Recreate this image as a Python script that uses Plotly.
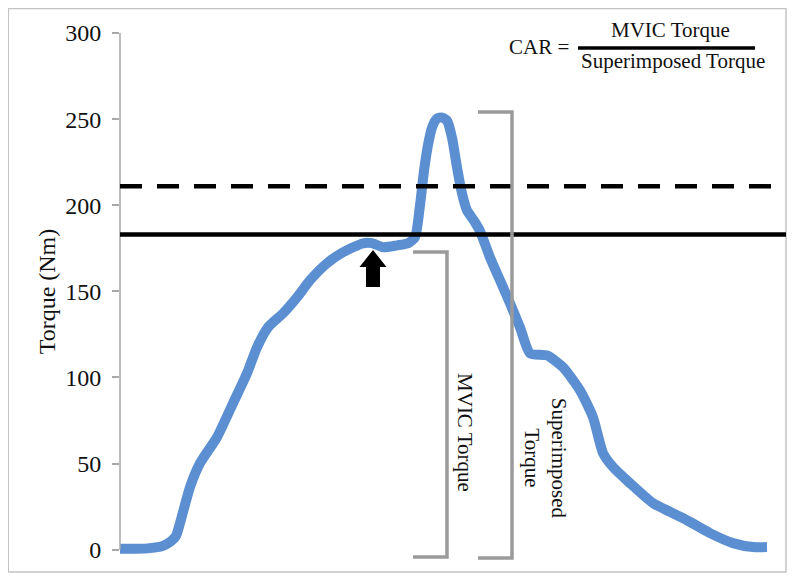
import plotly.graph_objects as go

# ---- data ----
time = [0, 15, 30, 42, 50, 56, 60, 70, 80, 97, 113, 127, 137, 148, 163, 177, 190, 207,
        223, 243, 252, 263, 277, 288, 295, 300, 304, 308, 312, 317, 322, 327, 332, 337,
        342, 347, 354, 360, 370, 380, 390, 400, 410, 427, 443, 460, 473, 483, 493, 510,
        533, 550, 567, 590, 613, 633, 647]
torque = [0.5, 0.5, 0.9, 2.0, 4.4, 8.0, 15.4, 36.3, 50.2, 65.3, 85.0, 102.4, 117.5, 129.1,
          137.2, 146.5, 156.4, 166.3, 172.7, 177.9, 178.0, 175.6, 176.7, 177.9, 181.4, 200.0,
          220.0, 235.0, 245.0, 250.3, 250.9, 249.1, 239.3, 222.0, 206.9, 197.0, 191.0, 185.0,
          169.7, 156.4, 143.1, 129.1, 114.0, 112.8, 105.9, 92.5, 76.9, 56.1, 48.0, 38.6,
          27.0, 22.0, 17.1, 9.6, 3.8, 1.5, 1.5]

y_ticks = [0, 50, 100, 150, 200, 250, 300]
superimposed_level = 211.0   # dashed line
mvic_level = 183.0           # solid line
mvic_point = (253, 174)      # arrow tip (time, torque)
mvic_bracket = dict(t0=293, t1=327, top=172.9, bottom=-4.2)
sup_bracket = dict(t0=358, t1=392, top=254.1, bottom=-4.8)

FONT = "Liberation Serif, Times New Roman, serif"
TXT = "#111"

fig = go.Figure()
fig.add_trace(go.Scatter(
    x=time, y=torque, mode="lines",
    line=dict(color="#5B8FD1", width=10, shape="spline", smoothing=0.6),
    showlegend=False, hoverinfo="skip"))

shapes = []
# outer border
shapes.append(dict(type="rect", xref="paper", yref="paper",
                   x0=-0.1677, x1=1.0, y0=-0.0228, y1=1.0465,
                   line=dict(color="#c4c4c4", width=1.5), layer="below"))
# y axis line
shapes.append(dict(type="line", xref="paper", yref="y", x0=0, x1=0, y0=0, y1=300,
                   line=dict(color="#a8a8a8", width=1.5)))
# horizontal lines
shapes.append(dict(type="line", xref="paper", yref="y", x0=0, x1=1,
                   y0=superimposed_level, y1=superimposed_level,
                   line=dict(color="black", width=4.5, dash="22px,15px")))
shapes.append(dict(type="line", xref="paper", yref="y", x0=0, x1=1,
                   y0=mvic_level, y1=mvic_level,
                   line=dict(color="black", width=4.5)))
# brackets
for b in (mvic_bracket, sup_bracket):
    shapes.append(dict(type="path", xref="x", yref="y",
                       path=f"M {b['t0']} {b['top']} L {b['t1']} {b['top']} "
                            f"L {b['t1']} {b['bottom']} L {b['t0']} {b['bottom']}",
                       line=dict(color="#9a9a9a", width=3.5)))
# arrow
shapes.append(dict(type="path", xref="x", yref="y", xsizemode="pixel", ysizemode="pixel",
                   xanchor=mvic_point[0], yanchor=mvic_point[1],
                   path="M 0 0 L 13.5 -17 L 7 -17 L 7 -37 L -7 -37 L -7 -17 L -13.5 -17 Z",
                   fillcolor="black", line=dict(color="black", width=0)))
# fraction bar (paper coords)
shapes.append(dict(type="line", xref="paper", yref="paper", x0=0.6877, x1=0.9535,
                   y0=0.9715, y1=0.9715, line=dict(color="black", width=3.5)))

def note(text, x, y, xref, yref, size=21, angle=0):
    return dict(text=text, x=x, y=y, xref=xref, yref=yref, textangle=angle,
                xanchor="center", yanchor="middle", showarrow=False,
                font=dict(family=FONT, size=size, color=TXT))

annotations = [
    note("Torque (Nm)", -0.1096, 150, "paper", "y", size=24, angle=-90),
    note("MVIC Torque", 345, 68.3, "x", "y", angle=90),
    note("Superimposed<br>Torque", 425, 53.3, "x", "y", angle=90),
    note("CAR =", 0.6291, 0.9734, "paper", "paper"),
    note("MVIC Torque", 0.8273, 1.0057, "paper", "paper"),
    note("Superimposed Torque", 0.8303, 0.9469, "paper", "paper"),
]

fig.update_layout(
    width=792, height=574,
    margin=dict(l=112, r=14, t=25, b=22),
    paper_bgcolor="white", plot_bgcolor="white",
    xaxis=dict(range=[0, 666], visible=False),
    yaxis=dict(range=[-6, 300], tickvals=y_ticks, ticks="outside", ticklen=7,
               tickcolor="#a8a8a8", tickwidth=1.5, showgrid=False, zeroline=False,
               showline=False, ticklabelstandoff=6,
               tickfont=dict(family=FONT, size=24, color=TXT)),
    shapes=shapes, annotations=annotations,
)

fig.write_html("out.html")
